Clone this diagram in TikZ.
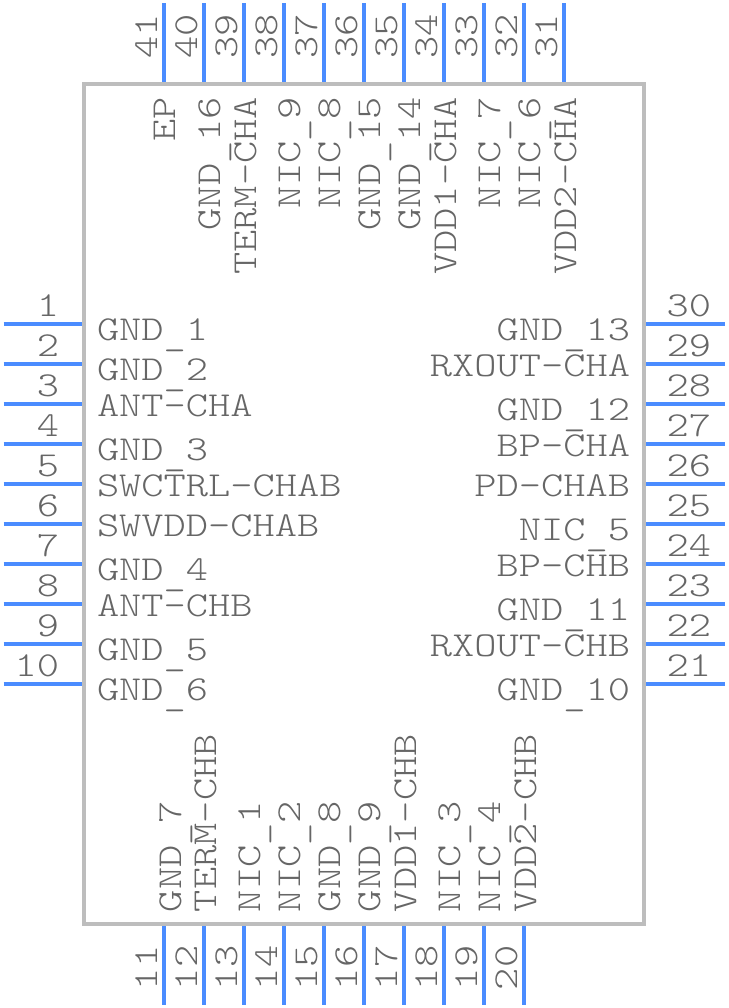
\documentclass[tikz,border=0pt]{standalone}
\usepackage{fontspec}
\setmonofont[FakeStretch=1.21]{Latin Modern Mono Light}
\definecolor{pinblue}{HTML}{4A8CFF}
\definecolor{bodygray}{HTML}{BDBDBD}
\definecolor{textgray}{HTML}{666666}
\newcommand{\lowbar}{\raisebox{-5pt}[0pt][0pt]{\_}}
\tikzset{
  pinline/.style={draw=pinblue,line width=4pt},
  bodybox/.style={draw=bodygray,line width=4pt,fill=white},
  lbl/.style={font=\ttfamily\fontsize{35}{35}\selectfont,text=textgray,inner sep=0pt,outer sep=0pt},
}
\begin{document}
\begin{tikzpicture}[x=1pt,y=-1pt]
\useasboundingbox (0,0) rectangle (728,1008);
\path[bodybox] (84,84) rectangle (644,924);
% left pins
\foreach \n/\y/\b/\t in {1/324/340/GND\lowbar 1,2/364/380/GND\lowbar 2,3/404/416/ANT-CHA,4/444/460/GND\lowbar 3,5/484/496/SWCTRL-CHAB,6/524/536/SWVDD-CHAB,7/564/580/GND\lowbar 4,8/604/616/ANT-CHB,9/644/660/GND\lowbar 5,10/684/700/GND\lowbar 6}{
  \draw[pinline] (3.5,\y) -- (82,\y);
  \node[lbl,anchor=base east] (num\n) at (59,\y-8) {\n};
  \node[lbl,anchor=base west] (name\n) at (97,\b) {\t};
}
% right pins
\foreach \n/\y/\b/\t in {30/324/340/GND\lowbar 13,29/364/376/RXOUT-CHA,28/404/420/GND\lowbar 12,27/444/456/BP-CHA,26/484/496/PD-CHAB,25/524/540/NIC\lowbar 5,24/564/576/BP-CHB,23/604/620/GND\lowbar 11,22/644/656/RXOUT-CHB,21/684/700/GND\lowbar 10}{
  \draw[pinline] (646,\y) -- (725,\y);
  \node[lbl,anchor=base east] (num\n) at (711,\y-8) {\n};
  \node[lbl,anchor=base east] (name\n) at (630,\b) {\t};
}
% top pins
\foreach \n/\x/\b/\t in {41/164/175/EP,40/204/220/GND\lowbar 16,39/244/256/TERM-CHA,38/284/300/NIC\lowbar 9,37/324/340/NIC\lowbar 8,36/364/380/GND\lowbar 15,35/404/420/GND\lowbar 14,34/444/456/VDD1-CHA,33/484/500/NIC\lowbar 7,32/524/540/NIC\lowbar 6,31/564/576/VDD2-CHA}{
  \draw[pinline] (\x,3.5) -- (\x,82);
  \node[lbl,rotate=90,anchor=base west] (num\n) at (\x-7,59) {\n};
  \node[lbl,rotate=90,anchor=base east] (name\n) at (\b,97) {\t};
}
% bottom pins
\foreach \n/\x/\b/\t in {11/164/181/GND\lowbar 7,12/204/216/TERM-CHB,13/244/260/NIC\lowbar 1,14/284/300/NIC\lowbar 2,15/324/340/GND\lowbar 8,16/364/380/GND\lowbar 9,17/404/416/VDD1-CHB,18/444/460/NIC\lowbar 3,19/484/500/NIC\lowbar 4,20/524/536/VDD2-CHB}{
  \draw[pinline] (\x,926) -- (\x,1004.5);
  \node[lbl,rotate=90,anchor=base west] (num\n) at (\x-7,990) {\n};
  \node[lbl,rotate=90,anchor=base west] (name\n) at (\b,912) {\t};
}
\end{tikzpicture}
\end{document}
